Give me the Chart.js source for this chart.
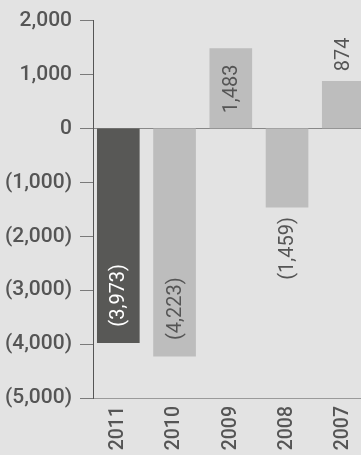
<!DOCTYPE html>
<html>
<head>
<meta charset="utf-8">
<script src="https://cdn.jsdelivr.net/npm/chart.js@4.4.1/dist/chart.umd.min.js"></script>
<style>
  html, body { margin: 0; padding: 0; background: #e3e3e3; overflow: hidden; }
  #wrap { width: 361px; height: 455px; }
</style>
</head>
<body>
<div id="wrap"><canvas id="c" width="361" height="455"></canvas></div>
<script>
// ---- data ----
const years = ['2011', '2010', '2009', '2008', '2007'];
const values = [-3973, -4223, 1483, -1459, 874];
const yTicks = [-5000, -4000, -3000, -2000, -1000, 0, 1000, 2000];

// ---- styles ----
const barColors = ['#585856', '#bdbdbd', '#bdbdbd', '#bdbdbd', '#bdbdbd'];
const textColor = '#555555';
const yFont = { family: "Roboto, sans-serif", size: 21, weight: '500' };
const xFont = { family: "Roboto, sans-serif", size: 19.5, weight: '500' };

function fmt(v) {
  const s = Math.abs(v).toLocaleString('en-US');
  return v < 0 ? '(' + s + ')' : s;
}

function isDark(hex) {
  const n = parseInt(hex.slice(1), 16);
  const r = (n >> 16) & 255, g = (n >> 8) & 255, b = n & 255;
  return (0.299 * r + 0.587 * g + 0.114 * b) < 128;
}

const valueLabels = {
  id: 'valueLabels',
  afterDatasetsDraw(chart) {
    const ctx = chart.ctx;
    const meta = chart.getDatasetMeta(0);
    ctx.save();
    ctx.font = "400 20px Roboto, sans-serif";
    ctx.textAlign = 'center';
    ctx.textBaseline = 'middle';
    meta.data.forEach((bar, i) => {
      const v = values[i];
      const text = fmt(v);
      const w = ctx.measureText(text).width;
      const len = Math.abs(bar.base - bar.y);
      const dir = bar.y < bar.base ? -1 : 1;
      const inside = w + 24 <= len;
      let cy;
      if (inside) cy = bar.y - dir * (16 + w / 2);
      else cy = bar.y + dir * (10 + w / 2);
      ctx.fillStyle = (inside && isDark(barColors[i])) ? '#ffffff' : textColor;
      ctx.save();
      ctx.translate(bar.x + 1, cy);
      ctx.rotate(-Math.PI / 2);
      ctx.fillText(text, 0, 0);
      ctx.restore();
    });
    ctx.restore();
  }
};

new Chart(document.getElementById('c'), {
  type: 'bar',
  data: {
    datasets: [{
      data: years.map((y, i) => ({ x: i, y: values[i] })),
      backgroundColor: barColors,
      borderWidth: 0,
      barThickness: 42
    }]
  },
  options: {
    responsive: false,
    animation: false,
    devicePixelRatio: 1,
    layout: { padding: { top: 20, left: 0, right: 0, bottom: 0 } },
    plugins: { legend: { display: false }, tooltip: { enabled: false } },
    scales: {
      x: {
        type: 'linear',
        offset: false,
        min: -0.45,
        max: 4.315,
        afterBuildTicks: (s) => { s.ticks = years.map((_, i) => ({ value: i })); },
        afterFit: (s) => { s.height = 57; s.paddingLeft = 0; s.paddingRight = 0; },
        grid: { display: false },
        border: { display: true, color: '#9a9a9a', width: 1 },
        ticks: {
          autoSkip: false,
          minRotation: 90,
          maxRotation: 90,
          padding: 0,
          color: textColor,
          font: xFont,
          callback: (v) => years[v]
        }
      },
      y: {
        min: -5000,
        max: 2000,
        afterBuildTicks: (s) => { s.ticks = yTicks.map(v => ({ value: v })); },
        afterFit: (s) => { s.width = 93; },
        grid: {
          drawTicks: true,
          tickLength: 13,
          tickColor: '#7a7a7a',
          color: (c) => (c.tick && c.tick.value === 0) ? '#888888' : 'rgba(0,0,0,0)',
          lineWidth: 1
        },
        border: { display: true, color: '#555555', width: 1 },
        ticks: {
          padding: 8,
          color: textColor,
          font: yFont,
          callback: (v) => fmt(v)
        }
      }
    }
  },
  plugins: [valueLabels]
});
</script>
</body>
</html>
